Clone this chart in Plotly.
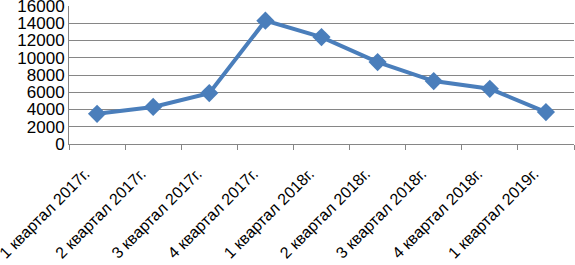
import plotly.graph_objects as go

categories = ["1 квартал 2017г.", "2 квартал 2017г.", "3 квартал 2017г.", "4 квартал 2017г.",
              "1 квартал 2018г.", "2 квартал 2018г.", "3 квартал 2018г.", "4 квартал 2018г.",
              "1 квартал 2019г."]
values = [3500, 4300, 5900, 14300, 12400, 9500, 7300, 6400, 3700]
y_ticks = [0, 2000, 4000, 6000, 8000, 10000, 12000, 14000, 16000]

fig = go.Figure(go.Scatter(
    x=categories, y=values, mode="lines+markers",
    line=dict(color="#4A7EBB", width=4),
    marker=dict(symbol="diamond", size=14, color="#4A7EBB"),
))

fig.update_layout(
    width=575, height=265,
    margin=dict(l=69, r=1, t=6, b=121),
    paper_bgcolor="white", plot_bgcolor="white",
    showlegend=False,
    font=dict(family="Liberation Sans, Arial", size=15, color="black"),
)
fig.update_xaxes(
    type="category", range=[-0.5, 8.5], tickangle=-45, automargin=False,
    tickson="boundaries", ticks="outside", ticklen=5, tickcolor="#868686",
    showline=True, linecolor="#868686", linewidth=1, showgrid=False,
    tickfont=dict(size=16), ticklabeloverflow="allow",
    ticklabelstandoff=13, ticklabelshift=-12,
)
fig.update_yaxes(
    range=[0, 16000], tickvals=y_ticks, ticktext=[str(v) for v in y_ticks],
    automargin=False, ticklabeloverflow="allow",
    showgrid=True, gridcolor="#868686", gridwidth=1,
    showline=True, linecolor="#868686", linewidth=1,
    ticks="", zeroline=False, tickfont=dict(size=17),
)

fig.write_html("out.html", config={"displayModeBar": False},
               post_script="document.body.style.margin='0';document.body.style.overflow='hidden';")
